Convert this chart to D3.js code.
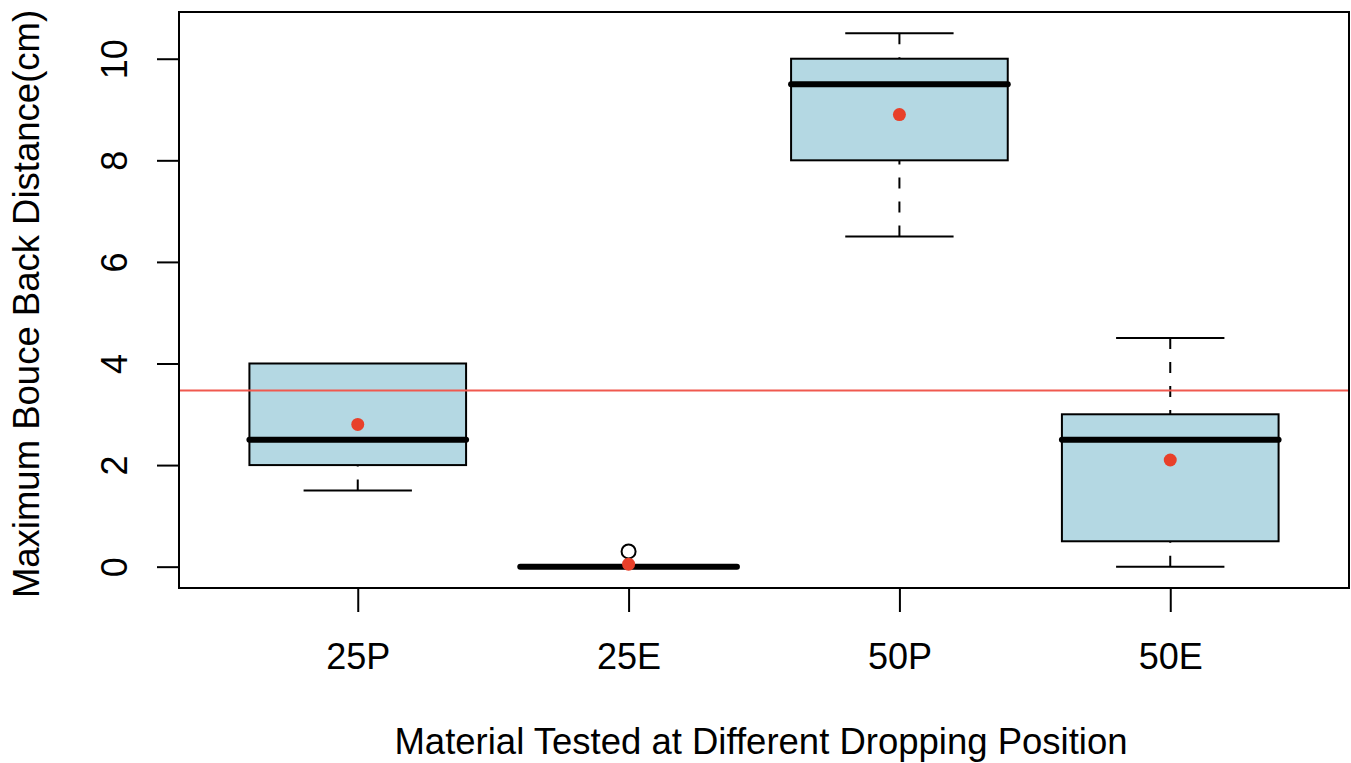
<!DOCTYPE html>
<html>
<head>
<meta charset="utf-8">
<script src="https://cdn.jsdelivr.net/npm/d3@7"></script>
<style>
  body { margin: 0; background: #fff; }
  text { font-family: "Liberation Sans", Arial, sans-serif; fill: #000; }
</style>
</head>
<body>
<div id="chart"></div>
<script>
// data
const categories = ["25P", "25E", "50P", "50E"];
const lowerWhisker = [1.5, 0, 6.5, 0];
const q1 = [2, 0, 8, 0.5];
const medians = [2.5, 0, 9.5, 2.5];
const q3 = [4, 0, 10, 3];
const upperWhisker = [4, 0, 10.5, 4.5];
const means = [2.8, 0.05, 8.9, 2.1];
const outliers = [{ cat: 1, value: 0.3 }];
const overallMean = 3.47;
const yTicks = [0, 2, 4, 6, 8, 10];

// layout
const margin = { top: 12, right: 2, bottom: 175, left: 179 };
const width = 1351 - margin.left - margin.right;
const height = 763 - margin.top - margin.bottom;

const svg = d3.select("#chart")
    .append("svg")
    .attr("width", width + margin.left + margin.right)
    .attr("height", height + margin.top + margin.bottom)
    .append("g")
    .attr("transform", `translate(${margin.left},${margin.top})`);

// scales (R style: 4% padding around the data range)
const x = d3.scaleLinear()
    .domain([0.34, categories.length + 0.66])
    .range([0, width]);

const y = d3.scaleLinear()
    .domain([-0.42, 10.92])
    .range([height, 0]);

const boxW = x(1.4) - x(1);     // half box width (boxwex 0.8)
const capW = boxW / 2;          // staple half width

const stats = categories.map((c, i) => ({
    cat: c, i: i,
    lo: lowerWhisker[i], q1: q1[i], med: medians[i], q3: q3[i], hi: upperWhisker[i], mean: means[i]
}));

const groups = svg.selectAll(".box")
    .data(stats)
    .enter()
    .append("g")
    .attr("class", "box");

// dashed whiskers
groups.append("line")
    .attr("x1", d => x(d.i + 1)).attr("x2", d => x(d.i + 1))
    .attr("y1", d => y(d.lo)).attr("y2", d => y(d.q1))
    .attr("stroke", "#000").attr("stroke-width", 2)
    .attr("stroke-dasharray", "11,13");
groups.append("line")
    .attr("x1", d => x(d.i + 1)).attr("x2", d => x(d.i + 1))
    .attr("y1", d => y(d.hi)).attr("y2", d => y(d.q3))
    .attr("stroke", "#000").attr("stroke-width", 2)
    .attr("stroke-dasharray", "11,13");

// staples
groups.filter(d => d.lo < d.q1).append("line")
    .attr("x1", d => x(d.i + 1) - capW).attr("x2", d => x(d.i + 1) + capW)
    .attr("y1", d => y(d.lo)).attr("y2", d => y(d.lo))
    .attr("stroke", "#000").attr("stroke-width", 2);
groups.filter(d => d.hi > d.q3).append("line")
    .attr("x1", d => x(d.i + 1) - capW).attr("x2", d => x(d.i + 1) + capW)
    .attr("y1", d => y(d.hi)).attr("y2", d => y(d.hi))
    .attr("stroke", "#000").attr("stroke-width", 2);

// boxes
groups.append("rect")
    .attr("x", d => x(d.i + 1) - boxW)
    .attr("width", 2 * boxW)
    .attr("y", d => y(d.q3))
    .attr("height", d => y(d.q1) - y(d.q3))
    .attr("fill", "#b4d8e3")
    .attr("stroke", "#000")
    .attr("stroke-width", 2);

// medians
groups.append("line")
    .attr("x1", d => x(d.i + 1) - boxW).attr("x2", d => x(d.i + 1) + boxW)
    .attr("y1", d => y(d.med)).attr("y2", d => y(d.med))
    .attr("stroke", "#000").attr("stroke-width", 6)
    .attr("stroke-linecap", "round");

// outliers
svg.selectAll(".outlier")
    .data(outliers)
    .enter()
    .append("circle")
    .attr("class", "outlier")
    .attr("cx", d => x(d.cat + 1))
    .attr("cy", d => y(d.value))
    .attr("r", 7)
    .attr("fill", "#fff")
    .attr("stroke", "#000")
    .attr("stroke-width", 2);

// reference line at the overall mean
svg.append("line")
    .attr("x1", 0).attr("x2", width)
    .attr("y1", y(overallMean)).attr("y2", y(overallMean))
    .attr("stroke", "#f0594f")
    .attr("stroke-width", 2);

// means
svg.selectAll(".mean")
    .data(stats)
    .enter()
    .append("circle")
    .attr("class", "mean")
    .attr("cx", d => x(d.i + 1))
    .attr("cy", d => y(d.mean))
    .attr("r", 6.5)
    .attr("fill", "#e8402a");

// frame
svg.append("rect")
    .attr("width", width)
    .attr("height", height)
    .attr("fill", "none")
    .attr("stroke", "#000")
    .attr("stroke-width", 2);

// x axis
const xAxis = svg.append("g")
    .attr("transform", `translate(0,${height})`)
    .call(d3.axisBottom(x)
        .tickValues(d3.range(1, categories.length + 1))
        .tickFormat(d => categories[d - 1])
        .tickSize(24));
xAxis.select(".domain").remove();
xAxis.selectAll("line").attr("stroke-width", 2);
xAxis.selectAll("text")
    .attr("y", 81)
    .attr("dy", null)
    .attr("font-size", 36)
    .attr("font-family", null);

// y axis
const yAxis = svg.append("g")
    .call(d3.axisLeft(y).tickValues(yTicks).tickSize(22));
yAxis.select(".domain").remove();
yAxis.selectAll("line").attr("stroke-width", 2);
yAxis.selectAll("text")
    .attr("transform", "rotate(-90)")
    .attr("x", 0)
    .attr("y", -52)
    .attr("dy", null)
    .attr("text-anchor", "middle")
    .attr("font-size", 36)
    .attr("font-family", null);

// labels
svg.append("text")
    .attr("text-anchor", "middle")
    .attr("x", 761 - margin.left)
    .attr("y", 754 - margin.top)
    .attr("font-size", 36.5)
    .text("Material Tested at Different Dropping Position");

svg.append("text")
    .attr("text-anchor", "middle")
    .attr("transform", `translate(${39 - margin.left},${304 - margin.top}) rotate(-90)`)
    .attr("font-size", 36.5)
    .text("Maximum Bouce Back Distance(cm)");
</script>
</body>
</html>
